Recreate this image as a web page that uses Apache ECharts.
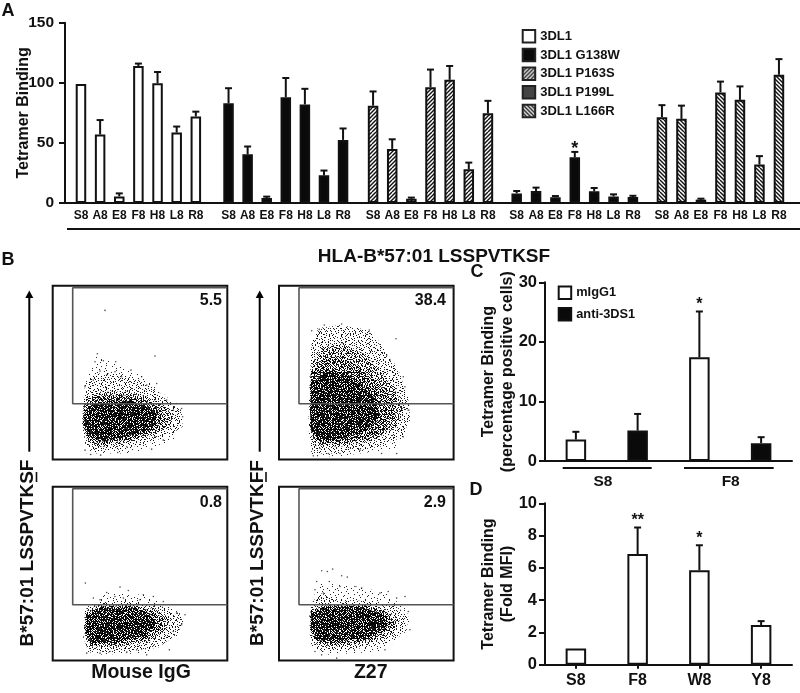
<!DOCTYPE html>
<html>
<head>
<meta charset="utf-8">
<style>html,body{margin:0;padding:0;background:#fff}#c{width:800px;height:693px}</style>
<script src="https://cdn.jsdelivr.net/npm/echarts@6/dist/echarts.min.js"></script>
</head>
<body>
<div id="c"></div>
<script>
// ---------- Panel A ----------
const peptides = ['S8','A8','E8','F8','H8','L8','R8'];
const mutants = ['3DL1','3DL1 G138W','3DL1 P163S','3DL1 P199L','3DL1 L166R'];
const wtMean = [99,57,5.5,114,99.7,58.6,72];
const wtTop = [99,69,8,116,109,63.6,76];
const g138Mean = [83,40.5,4.2,88,82,23,52.5];
const g138Top = [95.5,47,5.3,104,95,27,62];
const p163Mean = [81,45,3.5,96.4,102.5,28,74.7];
const p163Top = [92.8,53,4.5,111,114,33.6,85];
const p199Mean = [8,10,4.7,38,9.7,5.5,5];
const p199Top = [10,12.8,5.8,42.5,12.5,7.2,6];
const l166Mean = [71.4,70,2.8,92,85.8,32,106.7];
const l166Top = [81.4,81,3.6,101,97,39,119.7];
const p199Stars = ['','','','*','','',''];
// ---------- Panel C ----------
const cCategories = ['S8','S8','F8','F8'];
const mIgG1Mean = [3.6,null,17.4,null];
const antiMean = [null,5.1,null,3.0];
const cMean = [3.6,5.1,17.4,3.0];
const cTop = [4.9,7.9,25.1,4.0];
const cStars = ['','','*',''];
// ---------- Panel D ----------
const dCategories = ['S8','F8','W8','Y8'];
const dMean = [1,6.86,5.85,2.46];
const dTop = [1,8.5,7.4,2.7];
const dStars = ['','**','*',''];
// ---------- Panel B: flow plots, read in arbitrary channel units (density outlines + lone events) ----------
const igGS = {
  faint:[[97,238],[132,313],[187,288],[272,248],[342,188],[392,138],[362,58],[242,18],[102,18],[87,98]],
  sparse:[[97,228],[132,258],[192,258],[262,238],[312,208],[352,168],[387,148],[390,98],[342,68],[282,48],[192,28],[122,23],[97,48],[90,118]],
  mid:[[100,188],[142,203],[222,203],[282,188],[332,163],[362,133],[352,103],[302,73],[232,53],[152,38],[107,48],[92,98],[92,148]],
  dense:[[96,165],[140,192],[220,192],[275,175],[325,150],[340,125],[330,100],[285,78],[225,60],[150,45],[108,55],[92,100],[92,135]],
  core:[[97,138],[112,163],[172,178],[242,173],[282,158],[312,138],[307,108],[272,83],[212,68],[152,53],[112,68],[94,103]],
  events:[[157,447],[134,317],[307,310],[127,293],[152,296],[189,293],[235,268],[142,265],[162,253],[187,263],[267,248],[97,218],[312,228],[122,238],[207,248],[282,223],[342,178],[372,168],[387,153],[362,148],[390,128],[332,58],[297,31],[195,21],[144,13],[114,15],[97,28],[222,38],[307,68]]
};
const z27S = {
  faint:[[95,368],[118,396],[213,396],[283,378],[353,278],[388,188],[393,118],[353,33],[183,10],[98,10],[88,98]],
  sparse:[[98,348],[118,393],[183,403],[268,388],[323,318],[363,258],[388,178],[393,128],[373,68],[303,38],[183,18],[103,18],[90,68],[91,208]],
  mid:[[98,288],[133,338],[193,348],[253,318],[303,268],[343,218],[373,158],[353,98],[283,58],[183,38],[108,43],[93,98],[93,208]],
  dense:[[95,258],[140,305],[195,310],[250,270],[300,225],[340,180],[350,130],[310,80],[240,55],[180,48],[115,50],[94,95],[93,190]],
  core:[[98,228],[143,268],[203,258],[253,218],[293,178],[303,128],[263,88],[193,63],[123,58],[95,88],[93,158]],
  events:[[98,386],[121,390],[136,403],[188,406],[271,388],[351,362],[323,313],[333,298],[373,248],[378,218],[388,148],[373,68],[353,18],[308,18],[103,11],[183,18],[243,28],[123,33],[148,18]]
};
const igGF = {
  faint:[[98,157],[162,202],[272,197],[342,167],[397,132],[372,72],[282,22],[132,17],[92,62]],
  sparse:[[97,154],[142,178],[242,178],[322,164],[378,142],[394,122],[376,82],[316,38],[192,24],[107,24],[92,72]],
  mid:[[97,147],[142,167],[242,167],[312,152],[352,127],[342,92],[292,57],[192,42],[112,42],[96,82]],
  dense:[[97,140],[142,162],[242,162],[305,148],[335,122],[320,90],[280,65],[192,48],[115,46],[97,82]],
  core:[[100,132],[142,157],[242,157],[292,142],[312,112],[282,77],[192,57],[117,52],[98,82]],
  events:[[98,232],[202,220],[227,210],[162,204],[187,192],[122,187],[272,197],[302,192],[142,182],[212,187],[262,182],[332,177],[397,137],[372,142],[387,107],[362,87],[350,32],[282,17],[222,24],[142,22],[102,22],[172,27],[252,32]]
};
const z27F = {
  faint:[[101,177],[118,237],[148,232],[233,222],[323,202],[383,152],[393,102],[313,27],[143,17],[93,42]],
  sparse:[[98,172],[123,202],[183,182],[283,177],[353,162],[388,132],[383,87],[323,52],[223,32],[123,27],[93,62],[91,132]],
  mid:[[95,152],[143,167],[263,167],[323,147],[363,122],[343,82],[283,57],[183,42],[113,47],[93,92]],
  dense:[[96,147],[143,164],[258,164],[318,143],[345,112],[305,78],[270,62],[183,48],[115,52],[94,92]],
  core:[[98,142],[143,160],[253,160],[313,137],[323,102],[273,72],[183,57],[118,60],[95,92]],
  events:[[128,269],[145,267],[161,274],[188,254],[205,250],[113,237],[151,237],[183,222],[228,222],[248,217],[133,202],[108,212],[303,202],[328,207],[353,187],[378,192],[388,147],[393,92],[318,32],[173,7],[128,17],[108,27]]
};
const flowLabels = ['5.5','38.4','0.8','2.9'];
const gateTopChannel = 515, gateLeftChannel = 60, gateLow = 167;

// ---------- textures ----------
const rankTile = [
"7c2e90b5d13a86f4c07e29b1","a13f6d82e4c7095bd2a6f138","e58b0a37c1f92d64e80b37c5","2d9c46f1b80e75a3196dc42f",
"b07ea3d5296c1f48ba07e3d9","4f1682cb7e0a93d5f264c81a","c93ad05f41b8e7260c9a5de3","068eb7219dc35fa47e18b26d",
"d7f43c6ae0829b1d5c3f0a94","15a0e98b37f4c62e1a97d6b8","8ec2d61f5a09b7d384ec027f","3b6794ac08e2f15ca69b4d31",
"f028dbe3617c4a9072fe18c5","94c15a7f2db086e39c4a73e0","6e0bd3824fa1c975e0b618d2","a87f29c6e50d3b14a87dc35f",
"12d5b04a9873fec6129f40b7","cf39e867d1b2056dcf3a8e14","7a04f1c35e96a8b37a0d26c9","e6b82d9a07f3c1d4e6518bf0",
"5d1c76e0b48a29f35c2ef7a3","09f3a4d8c16e7b028da1364b","b2e7581f3d90c4a6f07cb9e5","483dc06be7a25f193e6d0f82"];
function stipple(maxRank,w,h,flip){
  const cv=document.createElement('canvas');cv.width=w;cv.height=h;
  const x=cv.getContext('2d');x.fillStyle='rgba(0,0,0,0.85)';
  for(let j=0;j<h;j++)for(let i=0;i<w;i++){
    const ch=flip?rankTile[23-i][j]:rankTile[j][i];
    if(parseInt(ch,16)<=maxRank)x.fillRect(i,j,1,1);
  }
  return {image:cv,repeat:'repeat'};
}
const tiles={
  faint:[stipple(0,24,24,false)],
  sparse:[stipple(1,24,24,false),stipple(0,17,19,true)],
  mid:[stipple(3,24,24,false),stipple(2,17,19,true)],
  dense:[stipple(5,24,24,false),stipple(4,17,19,true)],
  core:[stipple(9,24,24,false),stipple(7,17,19,true)]
};
function hatch(rising){
  const s=4,k=3;const cv=document.createElement('canvas');cv.width=s*k;cv.height=s*k;
  const x=cv.getContext('2d');x.fillStyle='#fff';x.fillRect(0,0,s*k,s*k);
  x.strokeStyle='#111';x.lineWidth=1.4;
  for(let i=-k;i<=2*k;i++){x.beginPath();
    if(rising){x.moveTo(i*s,s*k);x.lineTo(i*s+s*k,0);}else{x.moveTo(i*s,0);x.lineTo(i*s+s*k,s*k);}
    x.stroke();}
  return {image:cv,repeat:'repeat'};
}
const INK='#111';
const font='"Liberation Sans",Arial,sans-serif';
const fills=['#fff','#0a0a0a',hatch(true),'#0a0a0a',hatch(false)];
const legendFills=['#fff','#0a0a0a',hatch(true),'#444',hatch(false)];
const means=[wtMean,g138Mean,p163Mean,p199Mean,l166Mean];
const tops=[wtTop,g138Top,p163Top,p199Top,l166Top];
const groupLeft=[71.4,219,363.5,507,652.2], groupWidth=[134,133.6,134,135.6,136.5];

const grids=[],xAxes=[],yAxes=[],series=[];
function whisker(ax,meanArr,topArr,stars,cap,fs,dy){
  return {type:'custom',xAxisIndex:ax,yAxisIndex:ax,silent:true,z:5,clip:false,
    data:meanArr.map((m,i)=>[i,m,topArr[i]]),encode:{x:0,y:2},
    renderItem:(p,api)=>{
      const i=p.dataIndex;
      if(api.value(1)===api.value(2))return null;
      const a=api.coord([i,api.value(1)]),b=api.coord([i,api.value(2)]);
      const kids=[
        {type:'line',shape:{x1:a[0],y1:a[1],x2:b[0],y2:b[1]},style:{stroke:INK,lineWidth:2}},
        {type:'line',shape:{x1:b[0]-cap,y1:b[1],x2:b[0]+cap,y2:b[1]},style:{stroke:INK,lineWidth:2}}];
      if(stars&&stars[i])kids.push({type:'text',style:{text:stars[i],x:b[0],y:b[1]+dy,align:'center',verticalAlign:'middle',font:'bold '+fs+'px '+font,fill:INK}});
      return {type:'group',children:kids};
    }};
}
// frame of panel A
grids.push({left:65,top:22.7,width:735,height:180.3});
xAxes.push({gridIndex:0,type:'category',data:[''],axisLabel:{show:false},axisTick:{show:false},axisLine:{lineStyle:{color:INK,width:2}}});
yAxes.push({gridIndex:0,type:'value',min:0,max:150,interval:50,splitLine:{show:false},
  axisLine:{show:true,lineStyle:{color:INK,width:2}},axisTick:{show:true,length:6,lineStyle:{color:INK,width:2}},
  axisLabel:{color:INK,fontFamily:font,fontWeight:'bold',fontSize:15.5,margin:11},
  name:'Tetramer Binding',nameLocation:'middle',nameRotate:90,nameGap:33,nameMoveOverlap:false,
  nameTextStyle:{color:INK,fontFamily:font,fontWeight:'bold',fontSize:16}});
mutants.forEach((name,g)=>{
  const ax=g+1;
  grids.push({left:groupLeft[g],top:22.7,width:groupWidth[g],height:180.3});
  xAxes.push({gridIndex:ax,type:'category',data:peptides,axisLine:{show:false},axisTick:{show:false},
    axisLabel:{interval:0,color:INK,fontFamily:font,fontWeight:'bold',fontSize:12,margin:7}});
  yAxes.push({gridIndex:ax,type:'value',min:0,max:150,show:false,splitLine:{show:false}});
  series.push({type:'bar',name,xAxisIndex:ax,yAxisIndex:ax,data:means[g],barWidth:10.5,
    itemStyle:{color:fills[g],borderColor:INK,borderWidth:2}});
  series.push(whisker(ax,means[g],tops[g],g===3?p199Stars:null,3.5,18,-3));
});
// panel C
const axC=6;
grids.push({left:545,top:282.3,width:247,height:178.7});
xAxes.push({gridIndex:axC,type:'category',data:cCategories,axisLabel:{show:false},axisTick:{show:false},axisLine:{lineStyle:{color:INK,width:2}}});
yAxes.push({gridIndex:axC,type:'value',min:0,max:30,interval:10,splitLine:{show:false},
  axisLine:{show:true,lineStyle:{color:INK,width:2}},axisTick:{show:true,length:6,lineStyle:{color:INK,width:2}},
  axisLabel:{color:INK,fontFamily:font,fontWeight:'bold',fontSize:16.5,margin:8},
  name:'Tetramer Binding\n(percentage positive cells)',nameLocation:'middle',nameRotate:90,nameGap:28,nameMoveOverlap:false,
  nameTextStyle:{color:INK,fontFamily:font,fontWeight:'bold',fontSize:16,lineHeight:19}});
series.push({type:'bar',name:'mIgG1',xAxisIndex:axC,yAxisIndex:axC,data:mIgG1Mean,barWidth:20.5,barGap:'-100%',itemStyle:{color:'#fff',borderColor:INK,borderWidth:2}});
series.push({type:'bar',name:'anti-3DS1',xAxisIndex:axC,yAxisIndex:axC,data:antiMean,barWidth:20.5,barGap:'-100%',itemStyle:{color:'#0a0a0a',borderColor:INK,borderWidth:2}});
series.push(whisker(axC,cMean,cTop,cStars,3.5,16,-7));
// panel D
const axD=7;
grids.push({left:545,top:503.3,width:247,height:161.4});
xAxes.push({gridIndex:axD,type:'category',data:dCategories,axisTick:{show:true,alignWithLabel:true,length:4,lineStyle:{color:INK,width:2}},
  axisLine:{lineStyle:{color:INK,width:2}},axisLabel:{interval:0,color:INK,fontFamily:font,fontWeight:'bold',fontSize:16,margin:8}});
yAxes.push({gridIndex:axD,type:'value',min:0,max:10,interval:2,splitLine:{show:false},
  axisLine:{show:true,lineStyle:{color:INK,width:2}},axisTick:{show:true,length:6,lineStyle:{color:INK,width:2}},
  axisLabel:{color:INK,fontFamily:font,fontWeight:'bold',fontSize:16.5,margin:8},
  name:'Tetramer Binding\n(Fold MFI)',nameLocation:'middle',nameRotate:90,nameGap:28,nameMoveOverlap:false,
  nameTextStyle:{color:INK,fontFamily:font,fontWeight:'bold',fontSize:16,lineHeight:19}});
series.push({type:'bar',name:'Fold MFI',xAxisIndex:axD,yAxisIndex:axD,data:dMean,barWidth:20.5,itemStyle:{color:'#fff',borderColor:INK,borderWidth:2}});
series.push(whisker(axD,dMean,dTop,dStars,3.5,16,-7));
// panel B
const flows=[igGS,z27S,igGF,z27F];
const flowBox=[[52.7,285.7],[279,285.7],[52.7,486.7],[279,486.7]];
flows.forEach((f,k)=>{
  const ax=8+k;
  grids.push({left:flowBox[k][0],top:flowBox[k][1],width:174.6,height:173.8,show:true,borderColor:INK,borderWidth:2,backgroundColor:'transparent'});
  xAxes.push({gridIndex:ax,type:'value',min:0,max:524,show:false,splitLine:{show:false}});
  yAxes.push({gridIndex:ax,type:'value',min:0,max:521,show:false,splitLine:{show:false}});
  ['faint','sparse','mid','dense','core'].forEach(level=>{
    const pts=f[level];
    tiles[level].forEach(tile=>{
      series.push({type:'custom',xAxisIndex:ax,yAxisIndex:ax,silent:true,z:2,data:pts,encode:{x:0,y:1},
        renderItem:(p,api)=>p.dataIndex===0?{type:'polygon',shape:{points:pts.map(q=>api.coord(q))},style:{fill:tile}}:null});
    });
  });
  series.push({type:'scatter',xAxisIndex:ax,yAxisIndex:ax,silent:true,z:3,data:f.events,symbolSize:1.6,itemStyle:{color:'#222'}});
  series.push({type:'line',xAxisIndex:ax,yAxisIndex:ax,silent:true,z:4,symbol:'none',
    data:[[524,gateTopChannel],[gateLeftChannel,gateTopChannel],[gateLeftChannel,gateLow],[524,gateLow]],
    lineStyle:{color:'#555',width:1.6}});
});

function txt(text,x,y,size,align,rot){
  return {type:'text',x,y,rotation:rot||0,z:20,silent:true,
    style:{text,align:align||'center',verticalAlign:'middle',font:'bold '+size+'px '+font,fill:INK}};
}
function rule(x1,y1,x2,y2,w,c){return {type:'line',z:20,silent:true,shape:{x1,y1,x2,y2},style:{stroke:c||INK,lineWidth:w||2}};}
function arrow(x){return [rule(x,451.7,x,296,2,'#000'),{type:'polygon',z:20,silent:true,shape:{points:[[x,290.5],[x-4,298],[x+4,298]]},style:{fill:'#000'}}];}
const graphics=[
  txt('A',8,11,18),txt('B',8,260,18),txt('C',477,272,18),txt('D',476,490,18),
  rule(67,229,800,229,2),rule(562.7,468,651.7,468,2),rule(684,468,773.7,468,2),
  txt('S8',603,482,15.5),txt('F8',730.7,482,15.5),
  txt(flowLabels[0],222,301,16,'right'),txt(flowLabels[1],446,301,16,'right'),
  txt(flowLabels[2],222,503,16,'right'),txt(flowLabels[3],446,503,16,'right'),
  ...arrow(29.3),...arrow(259.7),
  txt('B*57:01 LSSPVTKSF',27.5,553,19,'center',Math.PI/2),
  txt('B*57:01 LSSPVTKFF',258,553,19,'center',Math.PI/2),
  rule(36.5,472,36.5,482,1.6),rule(266,472,266,482,1.6),
  txt('Mouse IgG',141,673,19.5),txt('Z27',370.7,673,19.5)
];

const chart=echarts.init(document.getElementById('c'),null,{renderer:'canvas'});
chart.setOption({
  animation:false,backgroundColor:'#fff',
  title:{text:'HLA-B*57:01 LSSPVTKSF',left:434,top:247,textAlign:'center',padding:0,
    textStyle:{color:INK,fontFamily:font,fontWeight:'bold',fontSize:19}},
  grid:grids,xAxis:xAxes,yAxis:yAxes,series,graphic:graphics,
  legend:[
    {left:521.7,top:29,padding:0,orient:'vertical',selectedMode:false,icon:'rect',itemWidth:12.5,itemHeight:12.5,itemGap:4.2,
     textStyle:{color:INK,fontFamily:font,fontWeight:'bold',fontSize:13,lineHeight:14.2},
     data:mutants.map((n,i)=>({name:n,itemStyle:{color:legendFills[i],borderColor:'#222',borderWidth:2}}))},
    {left:557.7,top:285.5,padding:0,orient:'vertical',selectedMode:false,icon:'rect',itemWidth:12.5,itemHeight:12.5,itemGap:7,
     textStyle:{color:INK,fontFamily:font,fontWeight:'bold',fontSize:12.8,lineHeight:14},
     data:[{name:'mIgG1',itemStyle:{color:'#fff',borderColor:INK,borderWidth:2}},{name:'anti-3DS1',itemStyle:{color:'#0a0a0a',borderColor:INK,borderWidth:2}}]}
  ]
});
</script>
</body>
</html>
